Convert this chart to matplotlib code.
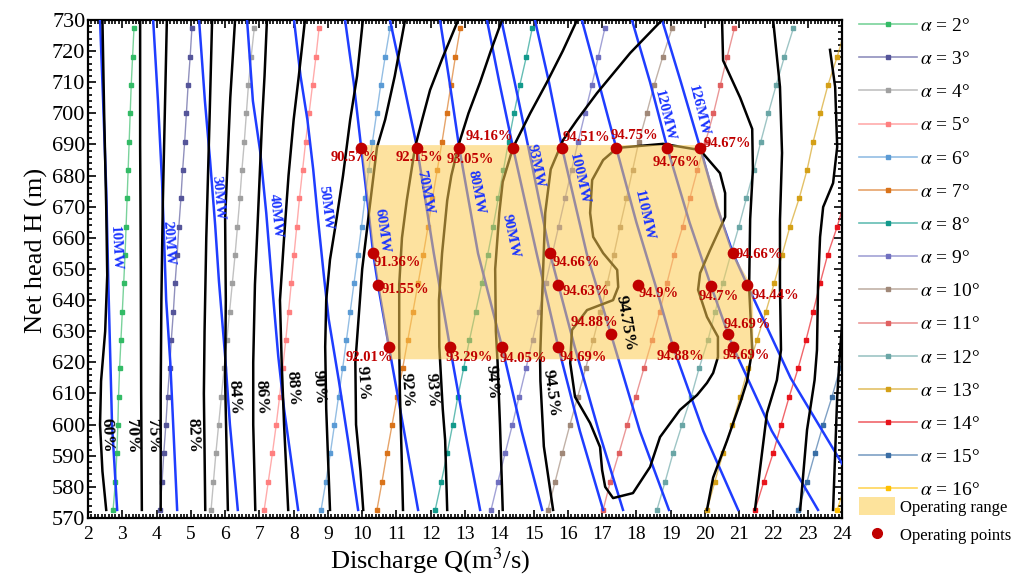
import numpy as np
import matplotlib.pyplot as plt
from matplotlib.colors import to_rgba
from matplotlib.lines import Line2D
from matplotlib.patches import Patch
from matplotlib.ticker import MultipleLocator

plt.rcParams['font.family'] = ['Liberation Serif', 'DejaVu Serif']
plt.rcParams['mathtext.fontset'] = 'stix'

# --- guide vane opening lines (alpha), Q at fixed heads ---
H_marks = [572.6, 581.7, 590.8, 599.9, 609.0, 618.1, 627.2, 636.3, 645.4,
           654.5, 663.6, 672.7, 681.8, 690.9, 700.0, 709.1, 718.2, 727.3]
alphas = [2, 3, 4, 5, 6, 7, 8, 9, 10, 11, 12, 13, 14, 15, 16]
alpha_colors = ['#33bb66', '#55559a', '#a0a0a0', '#ff7f7f', '#5b9bd5', '#d9731a',
                '#139a8c', '#7070c0', '#a08878', '#e06060', '#6aa6a6', '#d4a017',
                '#e8141c', '#3a6ea5', '#ffc000']
a2 = [2.73, 2.80, 2.84, 2.87, 2.89, 2.92, 2.96, 3.00, 3.04, 3.08, 3.11, 3.14, 3.17, 3.20, 3.23, 3.26, 3.30, 3.34]
a3 = [4.10, 4.16, 4.21, 4.27, 4.32, 4.38, 4.43, 4.49, 4.54, 4.60, 4.65, 4.71, 4.76, 4.82, 4.87, 4.92, 4.98, 5.03]
a4 = [5.59, 5.66, 5.73, 5.81, 5.89, 5.97, 6.05, 6.13, 6.21, 6.29, 6.36, 6.43, 6.49, 6.56, 6.62, 6.68, 6.76, 6.85]
a5 = [7.14, 7.26, 7.38, 7.49, 7.59, 7.68, 7.77, 7.85, 7.93, 8.01, 8.09, 8.17, 8.26, 8.35, 8.45, 8.55, 8.65, 8.74]
a6 = [8.80, 8.94, 9.07, 9.19, 9.31, 9.43, 9.54, 9.65, 9.76, 9.87, 9.98, 10.08, 10.19, 10.30, 10.42, 10.54, 10.67, 10.81]
a7 = [10.43, 10.58, 10.72, 10.87, 11.02, 11.18, 11.33, 11.48, 11.63, 11.78, 11.92, 12.05, 12.19, 12.33, 12.46, 12.59, 12.72, 12.86]
a8 = [12.13, 12.31, 12.48, 12.64, 12.79, 12.96, 13.13, 13.31, 13.49, 13.66, 13.82, 13.97, 14.12, 14.27, 14.43, 14.60, 14.79, 14.96]
a9 = [13.76, 13.96, 14.17, 14.38, 14.58, 14.78, 14.97, 15.16, 15.35, 15.54, 15.73, 15.92, 16.11, 16.30, 16.50, 16.70, 16.89, 17.08]
a10 = [15.42, 15.63, 15.84, 16.06, 16.29, 16.52, 16.74, 16.95, 17.15, 17.34, 17.52, 17.71, 17.89, 18.07, 18.30, 18.52, 18.77, 19.04]
a11 = [17.03, 17.24, 17.49, 17.73, 17.98, 18.22, 18.46, 18.68, 18.89, 19.10, 19.35, 19.56, 19.78, 20.02, 20.25, 20.45, 20.65, 20.86]
a12 = [18.60, 18.84, 19.07, 19.33, 19.60, 19.83, 20.09, 20.30, 20.52, 20.75, 20.99, 21.21, 21.43, 21.63, 21.85, 22.08, 22.32, 22.58]
a13 = [20.06, 20.29, 20.53, 20.79, 21.03, 21.26, 21.52, 21.78, 22.02, 22.25, 22.48, 22.75, 22.98, 23.16, 23.37, 23.59, 23.86, 24.10]
a14 = [21.46, 21.72, 21.99, 22.22, 22.46, 22.72, 22.95, 23.16, 23.36, 23.58, 23.86, 24.10]
a15 = [22.72, 22.98, 23.21, 23.45, 23.71, 23.94, 24.20]
a16 = [23.86, 24.12]
alpha_Q = [a2, a3, a4, a5, a6, a7, a8, a9, a10, a11, a12, a13, a14, a15, a16]

# --- constant output lines (MW) ---
p10_Q, p10_H = [2.35, 2.44, 2.53, 2.60, 2.70, 2.85], [730, 704, 676, 642, 600, 572.6]
p20_Q, p20_H = [3.90, 4.04, 4.16, 4.28, 4.40, 4.60], [730, 704, 678, 640, 620, 572.6]
p30_Q, p30_H = [5.24, 5.41, 5.56, 5.71, 5.82, 6.00, 6.14, 6.37], [730, 704, 685, 664, 646, 622, 600, 572.6]
p40_Q, p40_H = [6.64, 6.81, 7.02, 7.20, 7.37, 7.55, 7.72, 8.13], [730, 704, 688, 668, 645, 622, 605, 572.6]
p50_Q, p50_H = [8.01, 8.20, 8.40, 8.57, 8.71, 8.88, 9.02, 9.32, 9.60, 9.88], [730, 712, 698, 682, 666, 648, 634, 614, 594, 572.6]
p60_Q, p60_H = [9.50, 9.75, 9.97, 10.15, 10.32, 10.46, 10.78, 11.22, 11.63], [730, 710, 689, 672, 655, 645, 625, 598, 572.6]
p70_Q, p70_H = [10.81, 11.20, 11.60, 12.09, 12.56, 13.00, 13.44], [730, 710, 689, 655, 625, 598, 572.6]
p80_Q, p80_H = [12.27, 12.55, 12.83, 13.38, 14.08, 14.65, 15.25], [730, 710, 689, 655, 625, 598, 572.6]
p90_Q, p90_H = [13.64, 14.00, 14.40, 15.09, 15.72, 16.35, 17.03], [730, 710, 689, 655, 625, 598, 572.6]
p93_Q, p93_H = [14.06, 14.45, 14.85, 15.48, 15.72, 16.20, 16.90, 17.61], [730, 710, 689, 655, 645, 625, 598, 572.6]
p100_Q, p100_H = [15.04, 15.45, 15.83, 16.55, 17.26, 18.10, 18.95], [730, 710, 689, 655, 629, 598, 572.6]
p110_Q, p110_H = [16.41, 16.90, 17.41, 18.00, 18.55, 19.07, 19.95, 20.97], [730, 710, 689, 665, 645, 625, 598, 572.6]
p120_Q, p120_H = [17.87, 18.40, 18.90, 19.55, 20.18, 20.68, 20.82, 21.95, 23.30], [730, 710, 689, 665, 644.5, 629, 625, 598, 572.6]
p126_Q, p126_H = [18.75, 19.30, 19.86, 20.35, 20.82, 21.23, 22.50, 23.94, 24.30], [730, 710, 689, 670, 655, 645, 615, 588.6, 582]
power_lines = [(p10_Q, p10_H), (p20_Q, p20_H), (p30_Q, p30_H), (p40_Q, p40_H), (p50_Q, p50_H),
               (p60_Q, p60_H), (p70_Q, p70_H), (p80_Q, p80_H), (p90_Q, p90_H), (p93_Q, p93_H),
               (p100_Q, p100_H), (p110_Q, p110_H), (p120_Q, p120_H), (p126_Q, p126_H)]
power_names = ['10MW', '20MW', '30MW', '40MW', '50MW', '60MW', '70MW', '80MW', '90MW',
               '93MW', '100MW', '110MW', '120MW', '126MW']
power_label_Q = [2.79, 4.36, 5.79, 7.46, 8.92, 10.58, 11.83, 13.32, 14.34, 15.07, 16.33, 18.22, 18.81, 19.80]
power_label_H = [656.7, 658.4, 672.8, 667.0, 669.6, 662.2, 674.7, 674.7, 660.6, 683.0, 678.9, 667.3, 699.2, 700.8]
power_label_rot = [-87, -86, -85, -84, -83, -82, -79, -79, -78, -78, -77, -77, -76, -76]

# --- efficiency contours ---
e60_Q, e60_H = [2.42, 2.47, 2.53, 2.56, 2.50, 2.38, 2.35, 2.42, 2.53], [730, 700, 670, 648, 630, 614, 600, 585, 572.6]
e70_Q, e70_H = [3.52, 3.52, 3.54, 3.55, 3.57], [730, 690, 650, 610, 572.6]
e75_Q, e75_H = [4.30, 4.24, 4.18, 4.14, 4.12, 4.12], [730, 700, 670, 640, 610, 572.6]
e82_Q, e82_H = [5.62, 5.55, 5.45, 5.40, 5.38, 5.42], [730, 700, 660, 630, 610, 572.6]
e84_Q, e84_H = [6.29, 6.15, 6.00, 6.02, 6.00, 6.08], [730, 705, 666, 640, 614, 572.6]
e86_Q, e86_H = [7.22, 7.15, 7.08, 6.97, 6.87, 6.82, 6.82, 6.88], [730, 712, 698, 670, 645, 620, 600, 572.6]
e88_Q, e88_H = [8.33, 8.15, 8.00, 7.85, 7.72, 7.60, 7.65, 7.72, 7.84], [730, 712, 698, 680, 660, 640, 620, 600, 572.6]
e90_Q = [10.02, 9.85, 9.65, 9.44, 9.25, 9.06, 8.95, 8.92, 8.95, 9.00, 9.06]
e90_H = [730, 712, 698, 680, 666, 653, 640, 625, 605, 590, 572.6]
e91_Q = [11.25, 10.95, 10.67, 10.43, 10.23, 10.00, 9.90, 9.80, 9.82, 9.95, 10.03]
e91_H = [730, 712, 698, 689, 671, 650, 635, 620, 600, 585, 572.6]
e92_Q = [12.80, 12.35, 11.98, 11.75, 11.54, 11.30, 11.16, 11.08, 11.08, 11.10, 11.15, 11.19]
e92_H = [730, 718, 707.5, 698, 689, 672, 660, 645, 625, 610, 590, 572.6]
e93_Q = [14.08, 13.75, 13.44, 13.10, 12.83, 12.60, 12.48, 12.33, 12.24, 12.25, 12.35, 12.42, 12.48]
e93_H = [730, 720, 710, 700, 690.5, 680, 672, 655, 640, 625, 605, 595, 572.6]
e94_Q = [16.27, 15.85, 15.39, 14.90, 14.40, 14.10, 14.00, 13.88, 13.90, 13.95, 14.02, 14.10]
e94_H = [730, 720, 710, 700, 689, 678, 668, 650, 630, 620, 600, 572.6]
e945_Q = [18.75, 17.82, 16.85, 16.27, 15.86, 15.50, 15.34, 15.25, 15.19, 15.20, 15.30, 15.57]
e945_H = [730, 719.4, 706.5, 697.9, 691.4, 682, 668, 641, 621, 614, 593, 572.6]
e9475_Q = [17.44, 18.78, 19.86, 20.44, 20.59, 20.59, 20.15, 19.86, 19.80, 20.06, 20.38, 20.38, 20.24,
           20.06, 19.77, 19.27, 18.69, 18.40, 17.90, 17.32, 17.09, 17.00, 16.94, 16.65, 16.21, 16.07,
           16.12, 16.56, 17.32, 17.47, 17.44, 17.03, 16.74, 16.65, 16.71, 17.03, 17.44]
e9475_H = [688.9, 690.2, 688.2, 680.8, 674.4, 666.7, 656.1, 648.7, 643.3, 634.6, 628.2, 621.7, 616.6,
           613.4, 609.5, 604.7, 596.0, 586.4, 578.0, 576.4, 580.0, 585.4, 592.8, 600.5, 608.9, 619.8,
           630.4, 636.8, 640.0, 644.2, 649.7, 655.1, 660.3, 668.0, 678.6, 685.0, 688.9]
r945_Q = [20.50, 20.53, 21.03, 21.38, 21.40, 21.32, 21.29, 21.38, 21.32, 21.23, 21.03, 20.65, 20.24, 20.06]
r945_H = [730, 717, 705, 695, 682, 666, 644, 624, 620, 614, 607, 595, 583, 572.6]
r94_Q = [21.99, 22.05, 22.19, 22.25, 22.19, 22.19, 22.22, 22.10, 21.81, 21.46]
r94_H = [730, 723.6, 708.5, 687.3, 665.7, 644.2, 624, 614.3, 603.7, 572.6]
r93_Q = [23.65, 23.80, 23.86, 23.74, 23.45, 23.36, 23.30, 23.27, 23.20, 22.98, 22.78]
r93_H = [720.4, 708.5, 689.2, 677.6, 669.9, 660.3, 644.2, 624, 614.3, 598.3, 572.6]
r92_Q, r92_H = [24.00, 23.94, 23.86, 23.74], [632, 623, 608.9, 572.6]
contours = [(e60_Q, e60_H), (e70_Q, e70_H), (e75_Q, e75_H), (e82_Q, e82_H), (e84_Q, e84_H),
            (e86_Q, e86_H), (e88_Q, e88_H), (e90_Q, e90_H), (e91_Q, e91_H), (e92_Q, e92_H),
            (e93_Q, e93_H), (e94_Q, e94_H), (e945_Q, e945_H), (e9475_Q, e9475_H),
            (r945_Q, r945_H), (r94_Q, r94_H), (r93_Q, r93_H), (r92_Q, r92_H)]
eff_names = ['60%', '70%', '75%', '82%', '84%', '86%', '88%', '90%', '91%', '92%', '93%', '94%', '94.5%', '94.75%']
eff_label_Q = [2.55, 3.28, 3.87, 5.06, 6.26, 7.05, 7.98, 8.74, 10.00, 11.31, 12.04, 13.79, 15.51, 17.67]
eff_label_H = [596.7, 596.3, 596.3, 596.7, 608.9, 608.9, 611.8, 612.0, 613.4, 611.1, 611.1, 613.7, 610.2, 632.6]
eff_label_rot = [-88, -88, -88, -88, -87, -87, -86, -86, -86, -86, -86, -86, -82, -80]

# --- operating range and operating points ---
range_Q = [9.97, 19.86, 20.82, 21.40, 21.42, 10.80, 10.46, 10.32]
range_H = [689.8, 689.8, 655.0, 644.0, 621.0, 621.0, 645.0, 655.0]
op_Q = [9.97, 11.60, 12.83, 14.40, 15.83, 17.41, 18.90, 19.86,
        10.32, 10.46, 15.48, 15.72, 18.05, 17.26, 20.18, 21.23, 20.68, 20.82,
        10.78, 12.56, 14.08, 15.72, 19.07, 20.82]
op_H = [689, 689, 689, 689, 689, 689, 689, 689,
        655, 645, 655, 645, 645, 629, 644.5, 645, 629, 655,
        625, 625, 625, 625, 625, 625]
op_eff = ['90.57%', '92.15%', '93.05%', '94.16%', '94.51%', '94.75%', '94.76%', '94.67%',
          '91.36%', '91.55%', '94.66%', '94.63%', '94.9%', '94.88%', '94.7%', '94.44%', '94.69%', '94.66%',
          '92.01%', '93.29%', '94.05%', '94.69%', '94.88%', '94.69%']
# label offsets in pixels (dx right, dy down)
op_off = [(-7, 10), (2, 10), (11, 12), (-24, -11), (24, -10), (18, -12), (9, 15), (27, -4),
          (24, 9), (27, 5), (26, 9), (28, 7), (21, 9), (-17, -12), (8, 10), (28, 11), (19, -10), (26, 1),
          (-20, 11), (19, 11), (21, 12), (25, 11), (7, 10), (13, 9)]

# --- plotting ---
fig = plt.figure(figsize=(10.19, 5.76), dpi=100)
ax = fig.add_axes([0.0864, 0.1007, 0.7399, 0.8646])

handles = []
for a, q, c in zip(alphas, alpha_Q, alpha_colors):
    ax.plot(q, H_marks[:len(q)], color=to_rgba(c, 0.65), lw=1.0, marker='s', ms=3,
            mfc=c, mec=c, zorder=2)
    handles.append(Line2D([], [], color=to_rgba(c, 0.65), lw=1.2, marker='s', ms=3, mfc=c, mec=c))

for q, h in power_lines:
    ax.plot(q, h, color='#1f3dff', lw=1.8, zorder=3)

for q, h in contours:
    ax.plot(q, h, color='black', lw=1.8, zorder=4)

ax.fill(range_Q, range_H, color='#fccb50', alpha=0.55, lw=0, zorder=5)

ax.scatter(op_Q, op_H, s=55, color='#c00000', zorder=7)
for q, h, t, (dx, dy) in zip(op_Q, op_H, op_eff, op_off):
    ax.annotate(t, (q, h), xytext=(dx, -dy), textcoords='offset pixels', ha='center', va='center',
                color='#c00000', fontsize=10.5, fontweight='bold', zorder=8)

for t, q, h, r in zip(power_names, power_label_Q, power_label_H, power_label_rot):
    ax.text(q, h, t, rotation=r, rotation_mode='anchor', ha='center', va='center',
            color='#1a33ff', fontsize=11, fontweight='bold', zorder=8)

for t, q, h, r in zip(eff_names, eff_label_Q, eff_label_H, eff_label_rot):
    ax.text(q, h, t, rotation=r, rotation_mode='anchor', ha='center', va='center',
            color='black', fontsize=12.5, fontweight='bold', zorder=8)

ax.set_xlim(2, 24)
ax.set_ylim(570, 730)
ax.xaxis.set_major_locator(MultipleLocator(1))
ax.xaxis.set_minor_locator(MultipleLocator(0.1))
ax.yaxis.set_major_locator(MultipleLocator(10))
ax.yaxis.set_minor_locator(MultipleLocator(2))
ax.tick_params(which='both', direction='in', top=True, right=True, width=1.2)
ax.tick_params(which='major', length=6)
ax.tick_params(which='minor', length=3)
ax.tick_params(axis='x', labelsize=14, pad=6)
ax.tick_params(axis='y', labelsize=16, pad=2)
for s in ax.spines.values():
    s.set_linewidth(1.6)

ax.set_xlabel('Discharge Q(m$^{3}$/s)', fontsize=19)
ax.xaxis.set_label_coords(0.4536, -0.055)
ax.set_ylabel('Net head H (m)', fontsize=19)
ax.yaxis.set_label_coords(-0.053, 0.538)

labels = [r'$\alpha$ = %d°' % a for a in alphas]
fig.legend(handles, labels, loc='upper left', bbox_to_anchor=(0.843, 0.97), frameon=False,
           fontsize=14, handlelength=3.0, handletextpad=0.15, labelspacing=0.8,
           borderpad=0, borderaxespad=0)
h2 = [Patch(facecolor='#fde39c', edgecolor='none'),
      Line2D([], [], ls='none', marker='o', ms=7, color='#c00000')]
fig.legend(h2, ['Operating range', 'Operating points'], loc='upper left',
           bbox_to_anchor=(0.843, 0.137), frameon=False, fontsize=12, handlelength=2.15,
           handleheight=1.3, handletextpad=0.33, labelspacing=0.6, borderpad=0, borderaxespad=0)

fig.savefig('out.png', dpi=100)
